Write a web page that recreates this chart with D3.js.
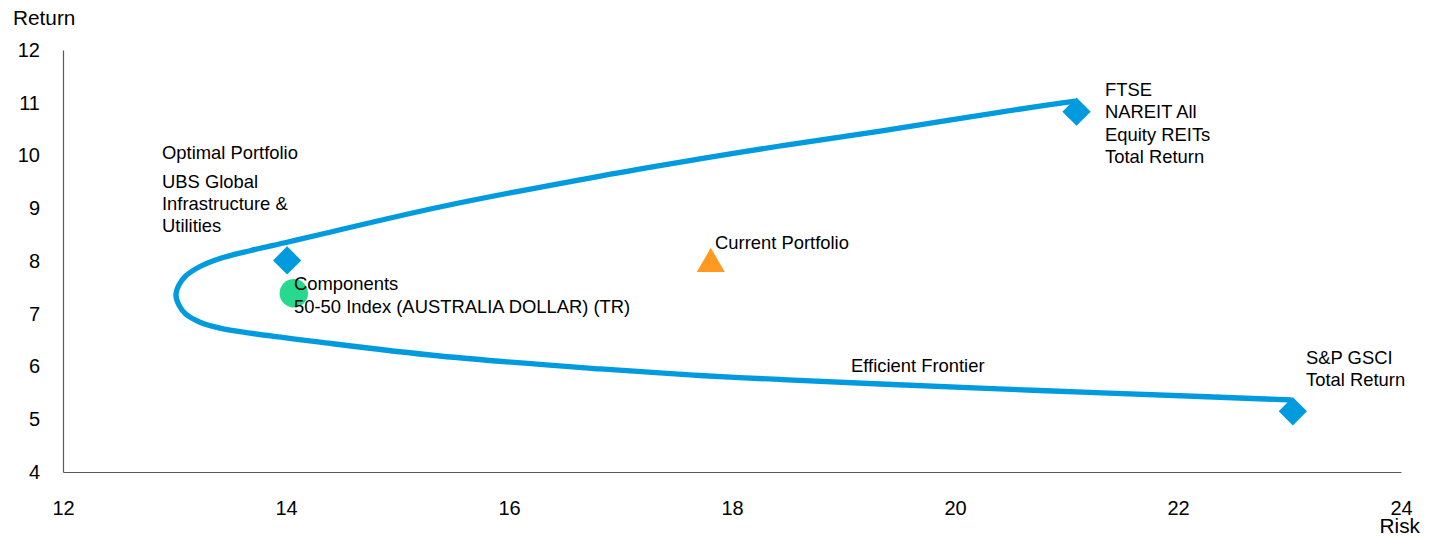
<!DOCTYPE html>
<html>
<head>
<meta charset="utf-8">
<script src="https://cdn.jsdelivr.net/npm/d3@7"></script>
<style>
  html, body { margin: 0; padding: 0; background: #fff; }
  svg { display: block; }
  text { font-family: "Liberation Sans", Arial, Helvetica, sans-serif; fill: #000; }
</style>
</head>
<body>
<svg id="chart" width="1430" height="537"></svg>
<script>
// ---- data ----
const xTicks = [12, 14, 16, 18, 20, 22, 24];
const yTicks = [4, 5, 6, 7, 8, 9, 10, 11, 12];
const xTitle = "Risk";
const yTitle = "Return";

// Efficient frontier (risk, return), from the upper end through the apex to the lower end
const frontierRisk   = [21.08, 20.76, 19.33, 18.43, 17.71, 16.82, 15.38, 14.305, 14.00, 13.677, 13.408, 13.229, 13.103, 13.040, 13.013, 13.040, 13.103, 13.229, 13.408, 13.677, 14.00, 14.305, 15.38, 16.82, 17.71, 18.43, 19.33, 20.76, 22.20, 23.02];
const frontierReturn = [11.033, 10.938, 10.464, 10.180, 9.934, 9.611, 9.024, 8.502, 8.351, 8.195, 8.048, 7.896, 7.720, 7.548, 7.355, 7.163, 6.990, 6.840, 6.727, 6.632, 6.544, 6.461, 6.199, 5.953, 5.829, 5.754, 5.668, 5.545, 5.431, 5.365];

// Portfolio / asset points
const pointNames  = ["UBS Global Infrastructure & Utilities", "Components 50-50 Index (AUSTRALIA DOLLAR) (TR)", "Current Portfolio", "FTSE NAREIT All Equity REITs Total Return", "S&P GSCI Total Return"];
const pointRisk   = [14.01, 14.07, 17.81, 21.09, 23.03];
const pointReturn = [8.01, 7.39, 8.00, 10.83, 5.15];
const pointShape  = ["diamond", "circle", "triangle", "diamond", "diamond"];

// ---- layout / style ----
const x = d3.scaleLinear().domain([12, 24]).range([63, 1401]);
const y = d3.scaleLinear().domain([4, 12]).range([472, 50]);
const BLUE = "#009bde", GREEN = "#26d98f", ORANGE = "#ff991f";
const shapeColor = { diamond: BLUE, circle: GREEN, triangle: ORANGE };

const svg = d3.select("#chart");

// axes
const gx = svg.append("g").attr("transform", `translate(0,${y(4)})`)
  .call(d3.axisBottom(x).tickValues(xTicks).tickSize(0).tickSizeOuter(0).tickPadding(28.5).tickFormat(d3.format("d")));
const gy = svg.append("g").attr("transform", `translate(${x(12)},0)`)
  .call(d3.axisLeft(y).tickValues(yTicks).tickSize(0).tickSizeOuter(0).tickPadding(23).tickFormat(d3.format("d")));
[gx, gy].forEach(g => {
  g.select(".domain").attr("stroke", "#5a5a5a").attr("stroke-width", 1.2);
  g.selectAll(".tick text").style("font-family", '"Liberation Sans", Arial, sans-serif').style("font-size", "20px").attr("fill", "#000");
});

svg.append("text").text(yTitle).attr("x", 13).attr("y", 25).style("font-size", "20.8px");
svg.append("text").text(xTitle).attr("x", 1420).attr("y", 533).attr("text-anchor", "end").style("font-size", "20.8px");

// frontier
const frontier = frontierRisk.map((r, i) => [r, frontierReturn[i]]);
svg.append("path")
  .datum(frontier)
  .attr("fill", "none")
  .attr("stroke", BLUE)
  .attr("stroke-width", 5.3)
  .attr("stroke-linejoin", "round")
  .attr("d", d3.line().x(d => x(d[0])).y(d => y(d[1])).curve(d3.curveCatmullRom.alpha(0.5)));

// markers
const symbolFor = {
  diamond: d3.symbol().type(d3.symbolSquare).size(400),
  circle: d3.symbol().type(d3.symbolCircle).size(Math.PI * 14.2 * 14.2),
  triangle: d3.symbol().type(d3.symbolTriangle).size(340)
};
pointNames.forEach((n, i) => {
  const s = pointShape[i];
  const px = x(pointRisk[i]), py = y(pointReturn[i]);
  const rot = s === "diamond" ? 45 : 0;
  const dy = s === "triangle" ? 3 : 0;
  svg.append("path")
    .attr("d", symbolFor[s]())
    .attr("fill", shapeColor[s])
    .attr("transform", `translate(${px},${py + dy}) rotate(${rot})`);
});

// annotations (pixel layout)
const labels = [
  { lines: ["Optimal Portfolio"], x: 162, y: 159 },
  { lines: ["UBS Global", "Infrastructure &", "Utilities"], x: 162, y: 188, lh: 22 },
  { lines: ["Current Portfolio"], x: 715, y: 248.5 },
  { lines: ["Components", "50-50 Index (AUSTRALIA DOLLAR) (TR)"], x: 294, y: 289.5, lh: 23 },
  { lines: ["FTSE", "NAREIT All", "Equity REITs", "Total Return"], x: 1105, y: 96, lh: 22.3 },
  { lines: ["S&P GSCI", "Total Return"], x: 1306, y: 364, lh: 22.3 },
  { lines: ["Efficient Frontier"], x: 851, y: 371.5 }
];
labels.forEach(l => {
  const t = svg.append("text").attr("x", l.x).attr("y", l.y).style("font-size", "18.4px");
  l.lines.forEach((line, k) => {
    t.append("tspan").attr("x", l.x).attr("y", l.y + k * (l.lh || 22)).text(line);
  });
});
</script>
</body>
</html>
